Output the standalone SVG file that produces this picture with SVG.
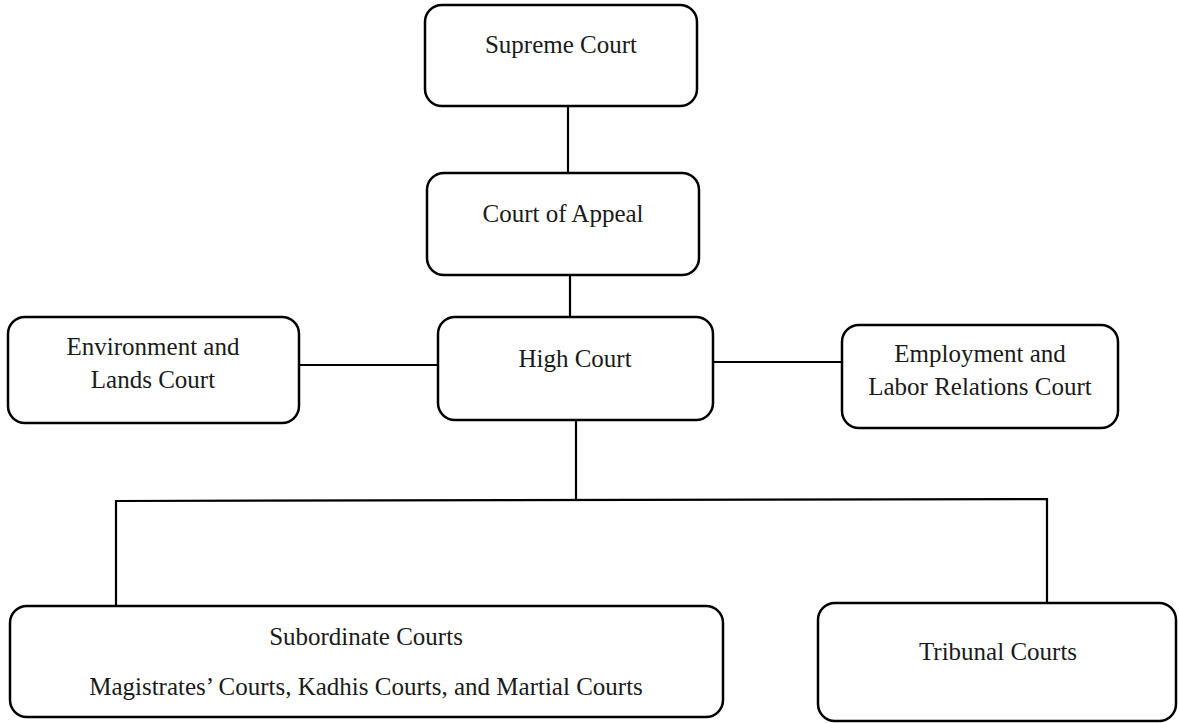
<svg xmlns="http://www.w3.org/2000/svg" width="1179" height="723" viewBox="0 0 1179 723">
  <style>
    .box { fill: #ffffff; stroke: #000000; stroke-width: 2.5; }
    .lbl { font-family: "Liberation Serif", "Times New Roman", serif; font-size: 25px; fill: #1a1a1a; text-anchor: middle; }
    .conn { fill: none; stroke: #000000; stroke-width: 2.2; }
  </style>
  <rect width="1179" height="723" fill="#ffffff"/>
  <g id="connectors">
    <line class="conn" x1="568" y1="107" x2="568" y2="173"/>
    <line class="conn" x1="570" y1="275" x2="570" y2="317"/>
    <line class="conn" x1="299" y1="365" x2="438" y2="365"/>
    <line class="conn" x1="713" y1="362" x2="842" y2="362"/>
    <line class="conn" x1="576" y1="420" x2="576" y2="500"/>
    <polyline class="conn" points="116,606 116,501 1047,499 1047,603"/>
  </g>
  <g id="supreme-court">
    <rect class="box" x="425" y="5" width="272" height="101" rx="17"/>
    <text class="lbl" x="561" y="53">Supreme Court</text>
  </g>
  <g id="court-of-appeal">
    <rect class="box" x="427" y="173" width="272" height="102" rx="17"/>
    <text class="lbl" x="563" y="222">Court of Appeal</text>
  </g>
  <g id="high-court">
    <rect class="box" x="438" y="317" width="275" height="103" rx="17"/>
    <text class="lbl" x="575" y="367">High Court</text>
  </g>
  <g id="environment-lands-court">
    <rect class="box" x="8" y="317" width="291" height="106" rx="17"/>
    <text class="lbl" x="153" y="355">Environment and</text>
    <text class="lbl" x="153" y="388">Lands Court</text>
  </g>
  <g id="employment-labor-court">
    <rect class="box" x="842" y="325" width="276" height="103" rx="17"/>
    <text class="lbl" x="980" y="362">Employment and</text>
    <text class="lbl" x="980" y="395">Labor Relations Court</text>
  </g>
  <g id="subordinate-courts">
    <rect class="box" x="10" y="606" width="713" height="111" rx="17"/>
    <text class="lbl" x="366" y="645">Subordinate Courts</text>
    <text class="lbl" x="366" y="695">Magistrates’ Courts, Kadhis Courts, and Martial Courts</text>
  </g>
  <g id="tribunal-courts">
    <rect class="box" x="818" y="603" width="358" height="118" rx="17"/>
    <text class="lbl" x="998" y="660">Tribunal Courts</text>
  </g>
</svg>
